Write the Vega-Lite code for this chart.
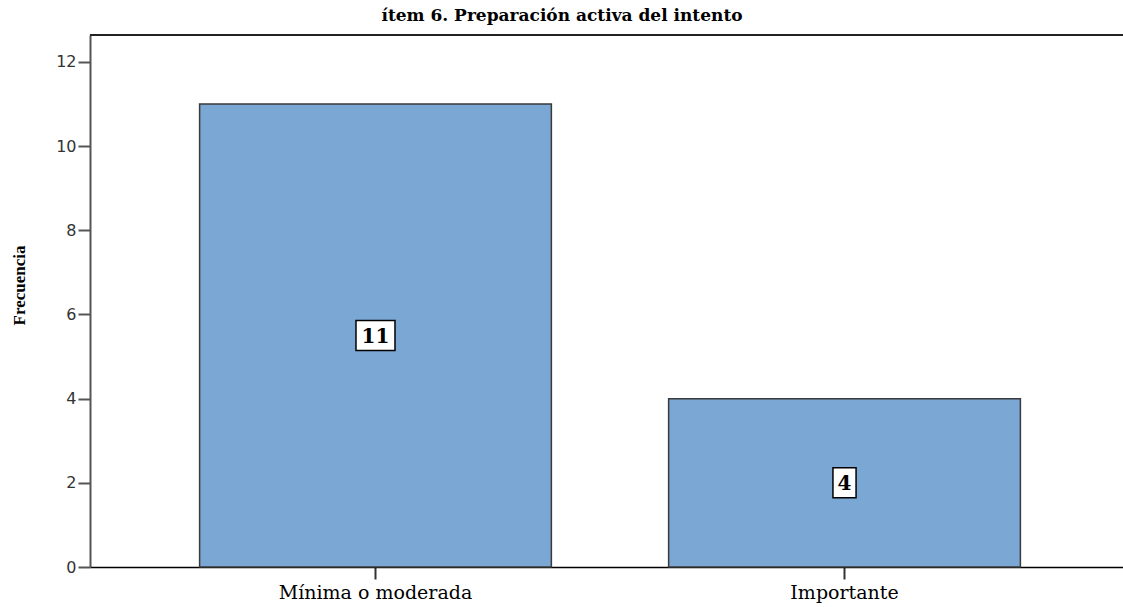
{
  "$schema": "https://vega.github.io/schema/vega-lite/v6.json",
  "autosize": {"type": "none"},
  "padding": {"left": 90, "top": 35, "right": 0, "bottom": 40},
  "width": 1040,
  "height": 532,
  "background": "white",
  "view": {"stroke": null, "strokeWidth": 0},
  "config": {"view": {"stroke": null, "strokeWidth": 0}},
  "title": {
    "text": "ítem 6. Preparación activa del intento",
    "font": "DejaVu Serif",
    "fontSize": 17,
    "fontWeight": "bold",
    "color": "#000000",
    "anchor": "middle",
    "dx": -48,
    "offset": 9
  },
  "data": {
    "values": [
      {"categoria": "Mínima o moderada", "frecuencia": 11, "etiqueta": "11"},
      {"categoria": "Importante", "frecuencia": 4, "etiqueta": "4"}
    ]
  },
  "transform": [{"calculate": "datum.frecuencia / 2", "as": "mitad"}],
  "layer": [
    {
      "mark": {"type": "bar", "fill": "#7BA7D4", "stroke": "#3a3a3a", "strokeWidth": 1.5},
      "encoding": {
        "x": {
          "field": "categoria", "type": "nominal", "sort": null,
          "scale": {"paddingInner": 0.25, "paddingOuter": 0.2337, "align": 0.5},
          "axis": {
            "title": null, "labelAngle": 0, "labelFont": "DejaVu Serif", "labelFontSize": 19,
            "labelColor": "#000000", "tickSize": 12, "tickColor": "#333333", "tickWidth": 2,
            "domainColor": "#000000", "domainWidth": 1.5, "labelPadding": 4, "labelLimit": 0
          }
        },
        "y": {
          "field": "frecuencia", "type": "quantitative",
          "scale": {"domain": [0, 12.64], "nice": false, "zero": true},
          "axis": {
            "title": "Frecuencia", "titleFont": "Liberation Serif", "titleFontSize": 17,
            "titleFontWeight": "bold", "titleColor": "#000000", "titleX": -62, "titleY": 250,
            "values": [0, 2, 4, 6, 8, 10, 12], "grid": false,
            "tickSize": 12, "tickColor": "#555555", "tickWidth": 2,
            "domainColor": "#555555", "domainWidth": 2,
            "labelFont": "DejaVu Sans", "labelFontSize": 16, "labelColor": "#333333", "labelPadding": 2
          }
        }
      }
    },
    {
      "data": {"values": [{"tope": 12.64}]},
      "mark": {"type": "rule", "color": "#222222", "strokeWidth": 2},
      "encoding": {"y": {"field": "tope", "type": "quantitative"}}
    },
    {
      "mark": {"type": "point", "filled": true, "fill": "white", "stroke": "#000000", "strokeWidth": 1.5, "opacity": 1, "size": 900},
      "encoding": {
        "x": {"field": "categoria", "type": "nominal", "sort": null},
        "y": {"field": "mitad", "type": "quantitative"},
        "shape": {
          "field": "etiqueta", "type": "nominal",
          "scale": {"domain": ["11", "4"], "range": ["M-1.3,-1L1.3,-1L1.3,1L-1.3,1Z", "M-0.77,-1L0.77,-1L0.77,1L-0.77,1Z"]},
          "legend": null
        }
      }
    },
    {
      "mark": {"type": "text", "font": "DejaVu Serif", "fontSize": 20, "fontWeight": "bold", "color": "#000000", "baseline": "middle", "dy": 1},
      "encoding": {
        "x": {"field": "categoria", "type": "nominal", "sort": null},
        "y": {"field": "mitad", "type": "quantitative"},
        "text": {"field": "etiqueta", "type": "nominal"}
      }
    }
  ]
}
